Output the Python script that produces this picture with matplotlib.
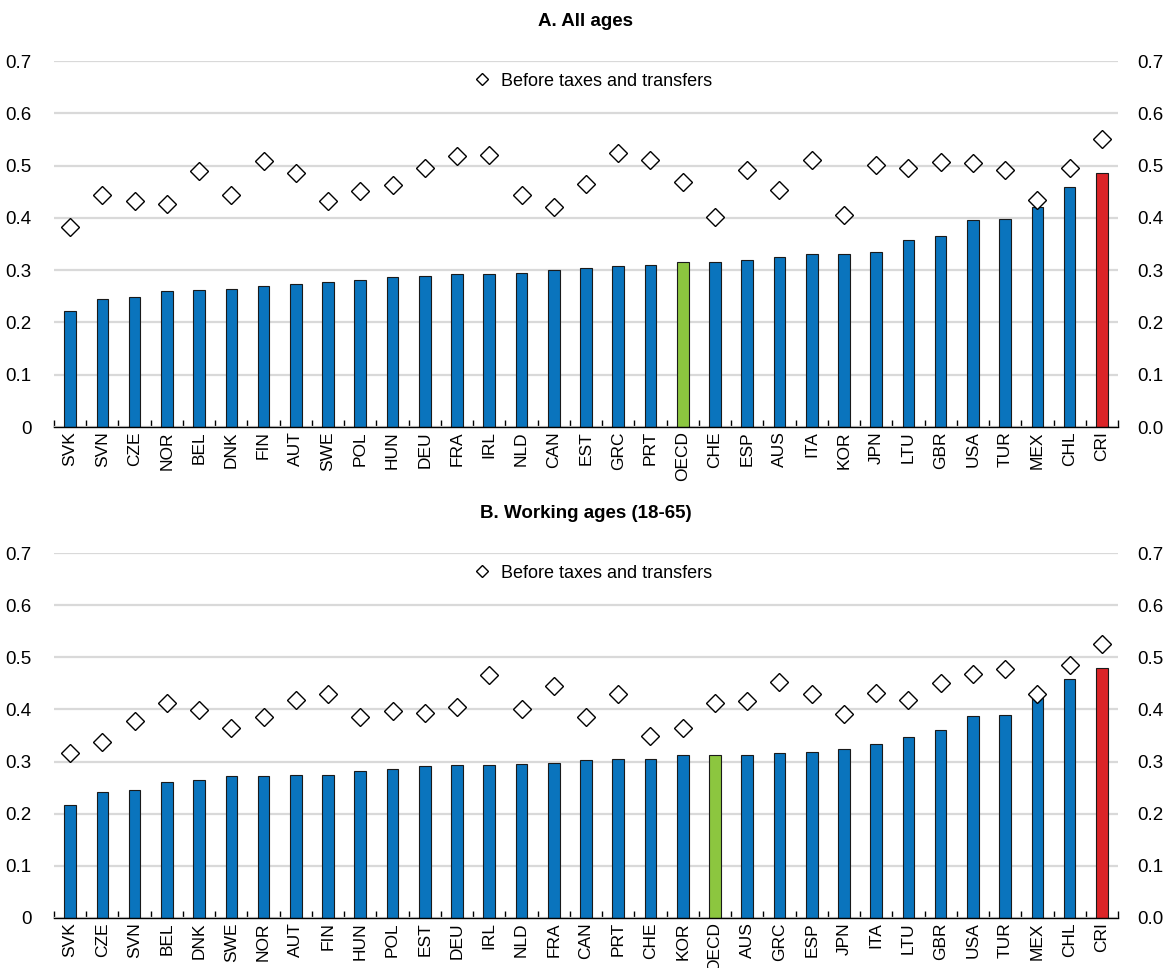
import numpy as np
import matplotlib
matplotlib.use("Agg")
import matplotlib.pyplot as plt
from matplotlib.ticker import FixedLocator, FormatStrFormatter

# Panel A: all ages
countries_a = ["SVK", "SVN", "CZE", "NOR", "BEL", "DNK", "FIN", "AUT", "SWE", "POL",
               "HUN", "DEU", "FRA", "IRL", "NLD", "CAN", "EST", "GRC", "PRT", "OECD",
               "CHE", "ESP", "AUS", "ITA", "KOR", "JPN", "LTU", "GBR", "USA", "TUR",
               "MEX", "CHL", "CRI"]
after_a = [0.221, 0.245, 0.248, 0.260, 0.262, 0.263, 0.269, 0.274, 0.278, 0.281,
           0.287, 0.289, 0.292, 0.292, 0.295, 0.301, 0.305, 0.308, 0.310, 0.315,
           0.315, 0.320, 0.325, 0.330, 0.331, 0.334, 0.357, 0.366, 0.395, 0.397,
           0.420, 0.459, 0.486]
before_a = [0.382, 0.444, 0.432, 0.427, 0.489, 0.444, 0.509, 0.486, 0.432, 0.452,
            0.463, 0.495, 0.519, 0.521, 0.444, 0.421, 0.465, 0.524, 0.510, 0.468,
            0.402, 0.491, 0.454, 0.511, 0.405, 0.502, 0.495, 0.507, 0.505, 0.492,
            0.435, 0.495, 0.551]

# Panel B: working ages (18-65)
countries_b = ["SVK", "CZE", "SVN", "BEL", "DNK", "SWE", "NOR", "AUT", "FIN", "HUN",
               "POL", "EST", "DEU", "IRL", "NLD", "FRA", "CAN", "PRT", "CHE", "KOR",
               "OECD", "AUS", "GRC", "ESP", "JPN", "ITA", "LTU", "GBR", "USA", "TUR",
               "MEX", "CHL", "CRI"]
after_b = [0.217, 0.241, 0.245, 0.261, 0.264, 0.272, 0.273, 0.275, 0.275, 0.281,
           0.285, 0.291, 0.294, 0.294, 0.296, 0.297, 0.303, 0.304, 0.304, 0.312,
           0.313, 0.313, 0.317, 0.319, 0.324, 0.333, 0.347, 0.360, 0.387, 0.389,
           0.422, 0.459, 0.479]
before_b = [0.316, 0.338, 0.377, 0.413, 0.398, 0.365, 0.386, 0.418, 0.429, 0.386,
            0.397, 0.393, 0.404, 0.466, 0.400, 0.445, 0.386, 0.429, 0.350, 0.365,
            0.412, 0.416, 0.453, 0.430, 0.392, 0.432, 0.418, 0.450, 0.467, 0.477,
            0.429, 0.485, 0.526]

BLUE = "#0a74bd"
GREEN = "#8cc63f"
RED = "#db2428"

plt.rcParams["font.family"] = ["Liberation Sans", "DejaVu Sans"]

fig = plt.figure(figsize=(11.67, 9.68), dpi=100)


def panel(rect, title, names, after, before):
    ax = fig.add_axes(rect)
    x = np.arange(len(names))
    colors = [GREEN if n == "OECD" else RED if n == "CRI" else BLUE for n in names]
    ax.bar(x, after, width=0.36, color=colors, edgecolor="#1a1a1a", linewidth=0.8, zorder=2)
    ax.plot(x, before, linestyle="none", marker="D", markersize=8.8,
            markerfacecolor="white", markeredgecolor="black", markeredgewidth=1.0,
            zorder=3, label="Before taxes and transfers")

    ax.set_xlim(-0.5, len(names) - 0.5)
    ax.set_ylim(0, 0.7)
    ax.set_yticks(np.arange(0, 0.71, 0.1))
    ax.set_yticklabels(["0"] + ["%.1f" % v for v in np.arange(0.1, 0.71, 0.1)])
    ax.yaxis.grid(True, color="#d9d9d9", linewidth=1.6, zorder=0)
    ax.set_axisbelow(True)
    for s in ["top", "right", "left"]:
        ax.spines[s].set_visible(False)
    ax.spines["bottom"].set_linewidth(1.0)

    ax.set_xticks(x)
    ax.set_xticklabels(names, rotation=90, fontsize=12.5)
    ax.tick_params(axis="x", length=0, pad=3)
    ax.xaxis.set_minor_locator(FixedLocator(np.arange(-0.5, len(names), 1.0)))
    ax.tick_params(axis="x", which="minor", direction="in", length=5, width=1.0)
    ax.tick_params(axis="y", length=0, labelsize=13.5, pad=16)

    ax2 = ax.twinx()
    ax2.set_ylim(0, 0.7)
    ax2.set_yticks(np.arange(0, 0.71, 0.1))
    ax2.yaxis.set_major_formatter(FormatStrFormatter("%.1f"))
    ax2.tick_params(axis="y", length=0, labelsize=13.5, pad=14)
    for s in ax2.spines.values():
        s.set_visible(False)

    ax.set_title(title, fontsize=13.5, fontweight="bold", pad=25)
    ax.legend(loc="upper center", bbox_to_anchor=(0.502, 1.0), frameon=False,
              fontsize=13, handletextpad=0.05, markerscale=0.65, borderaxespad=0.25)
    return ax


panel([54 / 1167, 1 - 427 / 968, 1064 / 1167, 366 / 968], "A. All ages",
      countries_a, after_a, before_a)
panel([54 / 1167, 1 - 918 / 968, 1064 / 1167, 365 / 968], "B. Working ages (18-65)",
      countries_b, after_b, before_b)

fig.savefig("out.png", dpi=100)
